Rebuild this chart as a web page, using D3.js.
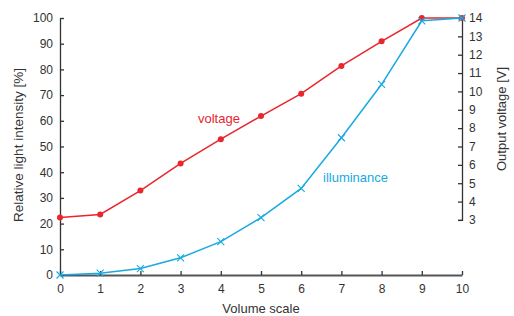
<!DOCTYPE html>
<html><head><meta charset="utf-8">
<script src="https://cdn.jsdelivr.net/npm/d3@7"></script>
<style>
body{margin:0;background:#fff;}
text{font-family:"Liberation Sans",Arial,sans-serif;}
</style></head>
<body><svg id="c" width="514" height="316"></svg>
<script>
const volumeScale = [0,1,2,3,4,5,6,7,8,9,10];
const voltage = [3.13,3.3,4.6,6.08,7.4,8.66,9.88,11.39,12.73,14,14];
const illuminance = [0,0.7,2.5,6.7,13,22.3,33.7,53.4,74.2,98.9,100];
const xTicks = [0,1,2,3,4,5,6,7,8,9,10];
const leftTicks = [0,10,20,30,40,50,60,70,80,90,100];
const rightTicks = [3,4,5,6,7,8,9,10,11,12,13,14];

const svg = d3.select("#c");
const x = d3.scaleLinear().domain([0,10]).range([60,462]);
const yL = d3.scaleLinear().domain([0,100]).range([275,18]);
const yR = d3.scaleLinear().domain([0,14]).range([275,18]);
const red = "#e8262c", blue = "#17a9e1", axc = "#333";

// axes
const gx = svg.append("g").attr("transform","translate(0,275)")
  .call(d3.axisBottom(x).tickValues(xTicks).tickSizeInner(-4).tickSizeOuter(0).tickPadding(9));
const gl = svg.append("g").attr("transform","translate(60,0)")
  .call(d3.axisLeft(yL).tickValues(leftTicks).tickSizeInner(-4).tickSizeOuter(0).tickPadding(7));
const yRaxis = d3.scaleLinear().domain([3,14]).range([yR(3),yR(14)]);
const gr = svg.append("g").attr("transform","translate(462,0)")
  .call(d3.axisRight(yRaxis).tickValues(rightTicks).tickSizeInner(-4).tickSizeOuter(-4).tickPadding(7));
[gx,gl,gr].forEach(g=>{
  g.selectAll("path,line").attr("stroke",axc).attr("stroke-width",1.3);
  g.selectAll("text").attr("fill","#333").style("font-size","12px").style("font-family","'Liberation Sans',Arial,sans-serif");
});
gx.select(".domain").attr("stroke","#555").attr("stroke-width",2);

// lines
const lv = d3.line().x((d,i)=>x(volumeScale[i])).y(d=>yR(d));
const li = d3.line().x((d,i)=>x(volumeScale[i])).y(d=>yL(d));
svg.append("path").datum(voltage).attr("d",lv).attr("fill","none").attr("stroke",red).attr("stroke-width",1.5);
svg.selectAll(".vd").data(voltage).enter().append("circle")
  .attr("cx",(d,i)=>x(volumeScale[i])).attr("cy",d=>yR(d)).attr("r",3).attr("fill",red);
svg.append("path").datum(illuminance).attr("d",li).attr("fill","none").attr("stroke",blue).attr("stroke-width",1.5);
const s=3.5;
svg.selectAll(".ix").data(illuminance).enter().append("path")
  .attr("d",(d,i)=>{const cx=x(volumeScale[i]),cy=yL(d);return `M${cx-s},${cy-s}L${cx+s},${cy+s}M${cx-s},${cy+s}L${cx+s},${cy-s}`;})
  .attr("stroke",blue).attr("stroke-width",1.1);

// labels
svg.append("text").attr("x",198).attr("y",123).attr("fill",red).style("font-size","13px").text("voltage");
svg.append("text").attr("x",323).attr("y",182).attr("fill",blue).style("font-size","13px").text("illuminance");
svg.append("text").attr("x",261).attr("y",313).attr("text-anchor","middle").attr("fill","#333").style("font-size","13px").text("Volume scale");
svg.append("text").attr("transform","translate(23,145) rotate(-90)").attr("text-anchor","middle").attr("fill","#333").style("font-size","13.5px").text("Relative light intensity [%]");
svg.append("text").attr("transform","translate(506,119) rotate(-90)").attr("text-anchor","middle").attr("fill","#333").style("font-size","13px").text("Output voltage [V]");
</script></body></html>
